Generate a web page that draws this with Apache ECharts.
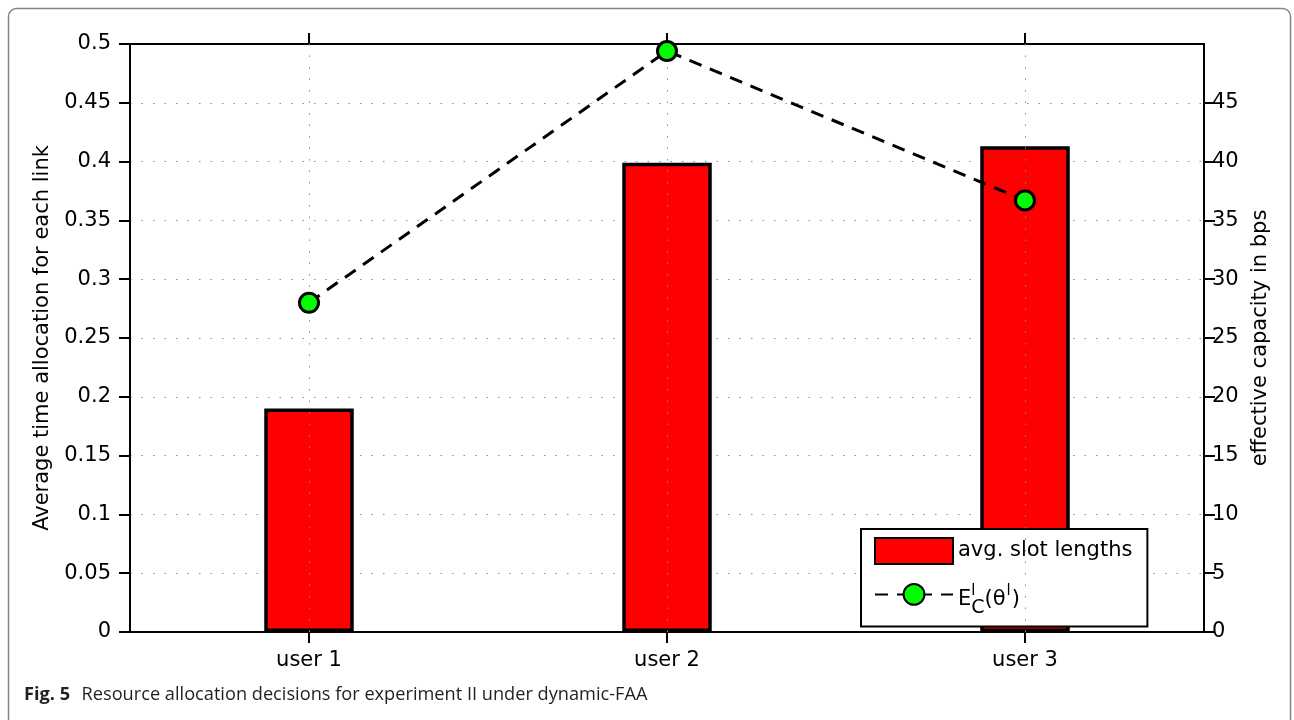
<!DOCTYPE html>
<html>
<head>
<meta charset="utf-8">
<style>
  html, body { margin: 0; padding: 0; background: #ffffff; }
  #chart { width: 1294px; height: 720px; }
</style>
<script src="https://cdn.jsdelivr.net/npm/echarts@6/dist/echarts.min.js"></script>
</head>
<body>
<div id="chart"></div>
<script>
// Users on the horizontal axis
const categories = ['user 1', 'user 2', 'user 3'];
// Average slot length (fraction of the frame) per user, left axis
const slotLengths = [0.19, 0.399, 0.413];
// Effective capacity E_C^l(theta^l) in bps per user, right axis
const effCapacity = [28, 49.4, 36.7];
// Series names as used by the legend
const barName = 'avg. slot lengths';
const lineName = 'E_C^l(θ^l)';
const captionBold = 'Fig. 5';
const captionText = 'Resource allocation decisions for experiment II under dynamic-FAA';

const FONT = 'DejaVu Sans';
const chart = echarts.init(document.getElementById('chart'), null, { renderer: 'canvas' });

const dotted = { color: '#8c8c8c', width: 1, type: [1.5, 10] };
const axisLine = { show: true, onZero: false, lineStyle: { color: '#000', width: 2 } };
const tick = { show: true, inside: false, length: 11, lineStyle: { color: '#000', width: 2 } };

chart.setOption({
  backgroundColor: '#ffffff',
  animation: false,
  textStyle: { fontFamily: FONT },
  title: {
    left: 24,
    top: 686,
    padding: 0,
    text: '{b|' + captionBold + '}  {r|' + captionText + '}',
    textStyle: {
      fontWeight: 'normal',
      rich: {
        b: { fontFamily: 'Open Sans', fontWeight: 'bold', fontSize: 18.2, color: '#231f20' },
        r: { fontFamily: 'Open Sans', fontWeight: 'normal', fontSize: 18.2, color: '#231f20' }
      }
    }
  },
  graphic: [{
    type: 'rect',
    silent: true,
    shape: { x: 8.5, y: 8.5, width: 1282, height: 800, r: 8 },
    style: { fill: 'none', stroke: '#858585', lineWidth: 1.5 }
  }],
  grid: { left: 130, right: 90, top: 44, bottom: 88, containLabel: false, outerBoundsMode: 'none' },
  legend: {
    orient: 'vertical',
    left: 861,
    top: 529,
    padding: [8, 15, 9, 13],
    itemGap: 18,
    itemWidth: 78,
    itemHeight: 26,
    backgroundColor: '#ffffff',
    borderColor: '#000',
    borderWidth: 2,
    borderRadius: 0,
    data: [{ name: barName, icon: 'rect' }, { name: lineName }],
    formatter: function (name) {
      if (name === lineName) {
        return '{n|E}{sup|l}{sub|C}{n|(θ}{sup2|l}{n|)}';
      }
      return name;
    },
    textStyle: {
      fontFamily: FONT,
      fontSize: 21,
      color: '#000',
      rich: {
        n: { fontFamily: FONT, fontSize: 21, color: '#000', lineHeight: 22, verticalAlign: 'top', padding: [6, 0, 0, 0] },
        sup: { fontFamily: FONT, fontSize: 15, color: '#000', lineHeight: 16, verticalAlign: 'top', width: 0, padding: [0, 0, 0, 0] },
        sub: { fontFamily: FONT, fontSize: 19, color: '#000', lineHeight: 22, verticalAlign: 'top', padding: [15, 0, 0, 0] },
        sup2: { fontFamily: FONT, fontSize: 15, color: '#000', lineHeight: 16, verticalAlign: 'top', padding: [0, 1, 0, 1] }
      }
    }
  },
  xAxis: [{
    type: 'category',
    data: categories,
    position: 'bottom',
    axisLine: axisLine,
    axisTick: Object.assign({ alignWithLabel: true }, tick),
    axisLabel: { fontFamily: FONT, fontSize: 21, color: '#000', margin: 18 },
    splitLine: { show: false }
  }, {
    type: 'category',
    data: categories,
    position: 'top',
    axisLine: axisLine,
    axisTick: Object.assign({ alignWithLabel: true }, tick),
    axisLabel: { show: false },
    splitLine: { show: false }
  }],
  yAxis: [{
    type: 'value',
    position: 'left',
    min: 0,
    max: 0.5,
    interval: 0.05,
    name: 'Average time allocation for each link',
    nameLocation: 'middle',
    nameGap: 73,
    nameTextStyle: { fontFamily: FONT, fontSize: 21, color: '#000' },
    axisLine: axisLine,
    axisTick: tick,
    axisLabel: {
      fontFamily: FONT, fontSize: 21, color: '#000', margin: 19,
      formatter: function (v) { return String(parseFloat(v.toFixed(2))); }
    },
    splitLine: { show: true, lineStyle: dotted }
  }, {
    type: 'value',
    position: 'right',
    min: 0,
    max: 50,
    interval: 5,
    name: 'effective capacity in bps',
    nameLocation: 'middle',
    nameGap: 46,
    nameTextStyle: { fontFamily: FONT, fontSize: 21, color: '#000' },
    axisLine: axisLine,
    axisTick: tick,
    axisLabel: { fontFamily: FONT, fontSize: 21, color: '#000', margin: 8, showMaxLabel: false },
    splitLine: { show: false }
  }],
  series: [{
    // vertical dotted guides through each user
    type: 'line',
    name: 'guides',
    xAxisIndex: 0,
    yAxisIndex: 0,
    data: [],
    z: 1,
    silent: true,
    markLine: {
      silent: true,
      symbol: ['none', 'none'],
      label: { show: false },
      lineStyle: dotted,
      data: categories.map(function (c) { return { xAxis: c }; })
    }
  }, {
    type: 'bar',
    name: barName,
    xAxisIndex: 0,
    yAxisIndex: 0,
    data: slotLengths,
    barWidth: '25%',
    z: 2,
    itemStyle: { color: '#ff0000', borderColor: '#000', borderWidth: 3.5 }
  }, {
    type: 'line',
    name: lineName,
    xAxisIndex: 0,
    yAxisIndex: 1,
    data: effCapacity,
    z: 3,
    symbol: 'circle',
    symbolSize: 19,
    lineStyle: { color: '#000', width: 3, type: [13, 9] },
    itemStyle: { color: '#00ff00', borderColor: '#000', borderWidth: 3 }
  }]
});
</script>
</body>
</html>
